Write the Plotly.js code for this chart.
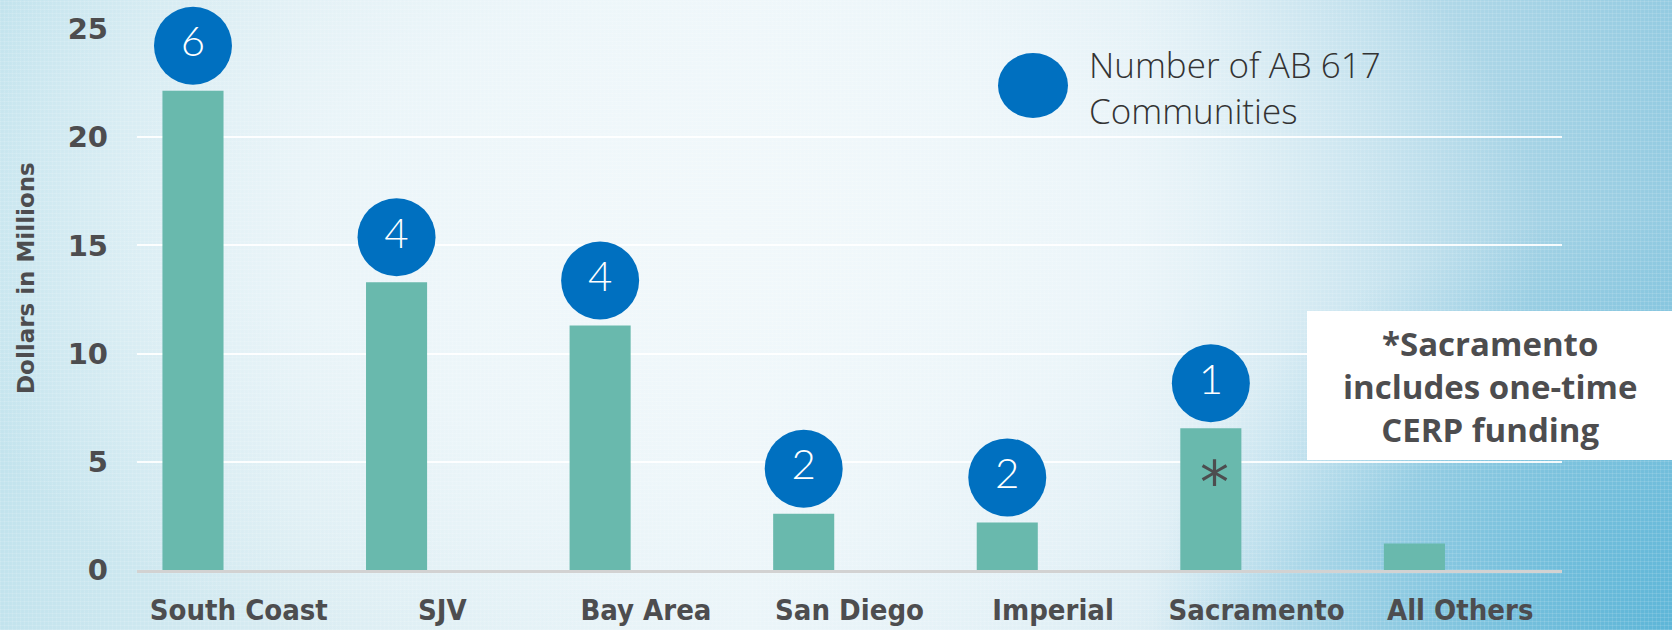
<!DOCTYPE html>
<html>
<head>
<meta charset="utf-8">
<script src="https://cdn.plot.ly/plotly-3.0.1.min.js"></script>
<style>
  body { margin: 0; }
  #chart {
    width: 1672px;
    height: 630px;
    background:
      repeating-linear-gradient(0deg, rgba(255,255,255,0.12) 0px, rgba(255,255,255,0.12) 1px, rgba(255,255,255,0) 1px, rgba(255,255,255,0) 4px),
      repeating-linear-gradient(90deg, rgba(255,255,255,0.10) 0px, rgba(255,255,255,0.10) 1px, rgba(255,255,255,0) 1px, rgba(255,255,255,0) 4px),
      radial-gradient(ellipse 820px 480px at 720px 230px, rgba(241,248,251,1) 0%, rgba(241,248,251,0.7) 50%, rgba(241,248,251,0) 100%),
      radial-gradient(ellipse 520px 420px at 1672px 630px, rgba(84,178,214,0.85) 0%, rgba(84,178,214,0) 100%),
      linear-gradient(90deg, #c2e3ed 0%, #d9ecf2 18%, #e9f4f8 45%, #dcedf4 68%, #acd6e7 88%, #94cbe1 100%);
  }
</style>
</head>
<body>
<div id="chart"></div>
<script>
  // regions and funding (dollars in millions)
  const regions = ['South Coast', 'SJV', 'Bay Area', 'San Diego', 'Imperial', 'Sacramento', 'All Others'];
  const funding = [22.15, 13.3, 11.3, 2.6, 2.2, 6.55, 1.23];
  // number of AB 617 communities (no badge for All Others)
  const communities = [6, 4, 4, 2, 2, 1, null];

  const yTicks = [0, 5, 10, 15, 20, 25];

  const W = 1672, H = 630;
  const margin = { l: 137, r: 110, t: 29, b: 60 };
  const plotW = W - margin.l - margin.r;
  const plotH = H - margin.t - margin.b;
  const yMax = 25;
  const pxPerUnit = plotH / yMax;

  // bars sit left of the category centre (as in the original clustered chart)
  const barShift = 0.225;
  const barX = regions.map((r, i) => i - barShift);
  const circleGapPx = 45;

  const textColor = '#4d4d4f';

  const badgeIdx = communities.map((c, i) => i).filter(i => communities[i] !== null);

  const data = [
    {
      type: 'bar',
      x: barX,
      y: funding,
      width: 0.3,
      marker: { color: '#69b9ad' },
      hoverinfo: 'y',
      showlegend: false,
    },
    {
      type: 'scatter',
      mode: 'markers+text',
      x: badgeIdx.map(i => barX[i]),
      y: badgeIdx.map(i => funding[i] + circleGapPx / pxPerUnit),
      text: badgeIdx.map(i => String(communities[i])),
      textposition: 'middle center',
      textfont: { family: 'Lato', weight: 300, size: 42, color: '#ffffff' },
      marker: { size: 78, color: '#0070c0', line: { width: 0 } },
      cliponaxis: false,
      hoverinfo: 'text',
      showlegend: false,
    },
  ];

  const px2paperX = (px) => (px - margin.l) / plotW;
  const px2paperY = (py) => (H - margin.b - py) / plotH;

  const layout = {
    width: W,
    height: H,
    margin: margin,
    paper_bgcolor: 'rgba(0,0,0,0)',
    plot_bgcolor: 'rgba(0,0,0,0)',
    showlegend: false,
    xaxis: {
      range: [-0.5, regions.length - 0.5],
      tickvals: regions.map((r, i) => i),
      ticktext: regions,
      showgrid: false,
      zeroline: false,
      showline: true,
      linecolor: '#d2d2d2',
      linewidth: 3,
      ticks: '',
      ticklabelstandoff: 12,
      tickfont: { family: 'DejaVu Sans Condensed, Liberation Sans Narrow, sans-serif', weight: 700, size: 29, color: textColor },
      fixedrange: true,
    },
    yaxis: {
      range: [0, yMax],
      tickvals: yTicks,
      showgrid: true,
      gridcolor: 'rgba(255,255,255,0.9)',
      gridwidth: 2,
      zeroline: false,
      showline: false,
      ticks: '',
      ticklabelstandoff: 28,
      tickfont: { family: 'DejaVu Sans', weight: 700, size: 29, color: textColor },
      fixedrange: true,
    },
    shapes: [
      // legend dot
      {
        type: 'circle', xref: 'paper', yref: 'paper',
        xsizemode: 'pixel', ysizemode: 'pixel',
        xanchor: px2paperX(1033), yanchor: px2paperY(85.5),
        x0: -35, x1: 35, y0: -32.5, y1: 32.5,
        fillcolor: '#0070c0', line: { width: 0 },
      },
      // white note box
      {
        type: 'rect', xref: 'paper', yref: 'paper',
        x0: px2paperX(1307), x1: px2paperX(1675),
        y0: px2paperY(460), y1: px2paperY(311),
        fillcolor: '#ffffff', line: { width: 0 }, layer: 'above',
      },
    ],
    annotations: [
      {
        text: 'Dollars in Millions',
        xref: 'paper', yref: 'paper',
        x: px2paperX(26), y: px2paperY(278),
        xanchor: 'center', yanchor: 'middle',
        textangle: -90, showarrow: false,
        font: { family: 'DejaVu Sans', weight: 700, size: 23, color: textColor },
      },
      {
        text: 'Number of AB 617<br>Communities',
        xref: 'paper', yref: 'paper',
        x: px2paperX(1087), y: px2paperY(87),
        xanchor: 'left', yanchor: 'middle', align: 'left', showarrow: false,
        font: { family: 'Open Sans', weight: 300, size: 35, color: '#333333' },
      },
      {
        text: '<b>*Sacramento<br>includes one-time<br>CERP funding</b>',
        xref: 'paper', yref: 'paper',
        x: px2paperX(1490), y: px2paperY(386),
        xanchor: 'center', yanchor: 'middle',
        showarrow: false,
        font: { family: 'Open Sans', size: 33, color: textColor },
      },
      {
        text: '*',
        xref: 'x', yref: 'y',
        x: barX[5], y: 4.0,
        xshift: 4,
        xanchor: 'center', yanchor: 'middle',
        showarrow: false,
        font: { family: 'DejaVu Sans', size: 58, color: textColor },
      },
    ],
  };

  Plotly.newPlot('chart', data, layout, { staticPlot: true, displayModeBar: false });
</script>
</body>
</html>
